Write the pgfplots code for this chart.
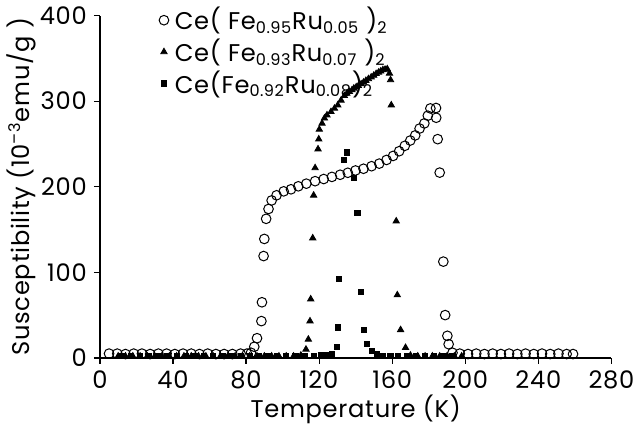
\documentclass[border=0pt]{standalone}
\usepackage{pgfplots}
\pgfplotsset{compat=1.18}
\usepackage{fontspec}
\setmainfont{Poppins}[LetterSpace=3]
\begin{document}
\begin{tikzpicture}
\begin{axis}[
  scale only axis, width=254pt, height=170pt,
  xmin=0, xmax=280, ymin=0, ymax=400,
  axis x line=bottom, axis y line=left,
  axis line style={-, line width=0.8pt},
  xtick={0,40,...,280}, ytick={0,100,...,400},
  tick align=outside, major tick length=3pt,
  tick style={black, line width=0.6pt},
  /pgf/number format/assume math mode=true,
  ticklabel style={font=\fontsize{12}{14}\selectfont},
  label style={font=\fontsize{12}{14}\selectfont},
  xlabel={Temperature (K)},
  ylabel={Susceptibility (10\textsuperscript{–3}emu/g )},
  xlabel style={yshift=4pt},
  ylabel style={yshift=-5pt},
  clip=false,
  legend cell align=left,
  legend style={draw=none, fill=none, at={(0.115,1.025)}, anchor=north west,
    font=\fontsize{12}{13}\selectfont, row sep=3pt, inner sep=0pt,
    nodes={inner sep=0pt, inner xsep=3pt}},
]
\addplot[only marks, mark=o, mark size=2.4pt, black, line width=0.5pt] coordinates {
(5,5)(9.5,5)(14,4.5)(18.5,5)(23,5)(27.5,4.5)(32,5)(36.5,5)(41,4.5)(45.5,5)(50,5)(54.5,4.5)(59,5)(63.5,4.5)(68,4.5)(72.5,4.5)(77,5)(80.5,5)
(82.7,6)(84.5,13)(86,23)(88.4,43)(88.7,65)(89.6,119)(90,139)(91,162.5)(92.3,174)(94,184)(96.7,190)(100.6,194.6)(104.6,197)(108.6,200.5)(113,203.6)(117.8,206.5)(122.5,209)(127,211.5)(131.5,214)(135.7,216.3)(139.9,219)(144.3,221)(148.7,224)(152.9,227)(156.9,231.3)(160.5,236)(163.8,241.5)(166.9,247.8)(169.9,254)(172.6,260)(175,268)(177.6,274)(179.5,283)(180.9,291.5)(184,292)(184.1,280.6)(184.9,255.6)(186,216.5)(188,112.5)(189,50)(190.2,25.8)(190.9,16)
(193,6)(197,5)(201.5,4.5)(206,5)(210.5,4.5)(215,5)(219.5,4.5)(224,5)(228.5,4.5)(233,5)(237.5,4.5)(242,5)(246.5,4.5)(251,5)(255.5,4.5)(259,4.5)
};
\addlegendentry{Ce( Fe\textsubscript{0.95}Ru\textsubscript{0.05} )\textsubscript{2}}
\addplot[only marks, mark=triangle*, mark size=1.8pt, black] coordinates {
(10,2)(14,2)(18,2)(22,2)(26,2)(30,2)(34,2)(38,2)(42,2)(46,2)(50,2)(54,2)(58,2)(62,2)(66,2)(70,2)(74,2)(78,2)(82,2)(86,2)(90,2)(94,2)(98,2)(102,2)(106,2)(110,3)
(112.8,10)(114.1,21.7)(115,43)(115.4,68.7)(116.5,140)(117,190)(117.8,222)(119.4,244)(119.8,255.6)(120.1,267)(121.6,274)(122.9,280)(124.3,283.7)(126.5,287.6)(128.4,291.5)(130.2,295.4)(132,301)(133.8,306.3)(135.2,309)(136.6,311)(138,313)(139,315)(140.3,316.5)(141.5,318)(143,320)(144.3,322)(145.6,324)(147,326)(148.5,328)(149.9,330)(151.2,332)(152.5,333.6)(153.7,335)(154.9,336.5)(156.1,337)(157.3,337.6)(158.5,332.5)(159.1,324.8)(159.5,295.4)(162.2,159.8)(162.8,73.5)(164.6,32.8)(167.3,12)
(170,3)(174,2)(178,2)(182,2)(186,2)(190,2)(194,2)(198,2)
};
\addlegendentry{Ce( Fe\textsubscript{0.93}Ru\textsubscript{0.07} )\textsubscript{2}}
\addplot[only marks, mark=square*, mark size=1.3pt, black] coordinates {
(12,2)(17,2)(22,2)(27,2)(32,2)(37,2)(42,2)(47,2)(52,2)(57,2)(62,2)(67,2)(72,2)(77,2)(82,2)(87,2)(92,2)(97,2)(102,2)(107,2)(112,2)(117,2)(121,3)(124,3)(127,4)
(129.6,13)(130.4,35.5)(130.8,92)(133.5,231)(135.1,240)(139,210)(140.9,169)(143,77.5)(144.6,32.8)(146.1,16.8)(148.8,8)(151.5,4)
(155,2)(159,2)(163,2)(168,2)(173,2)(178,2)(183,2)(188,2)(193,2)
};
\addlegendentry{Ce(Fe\textsubscript{0.92}Ru\textsubscript{0.08})\textsubscript{2}}
\end{axis}
\end{tikzpicture}
\end{document}
